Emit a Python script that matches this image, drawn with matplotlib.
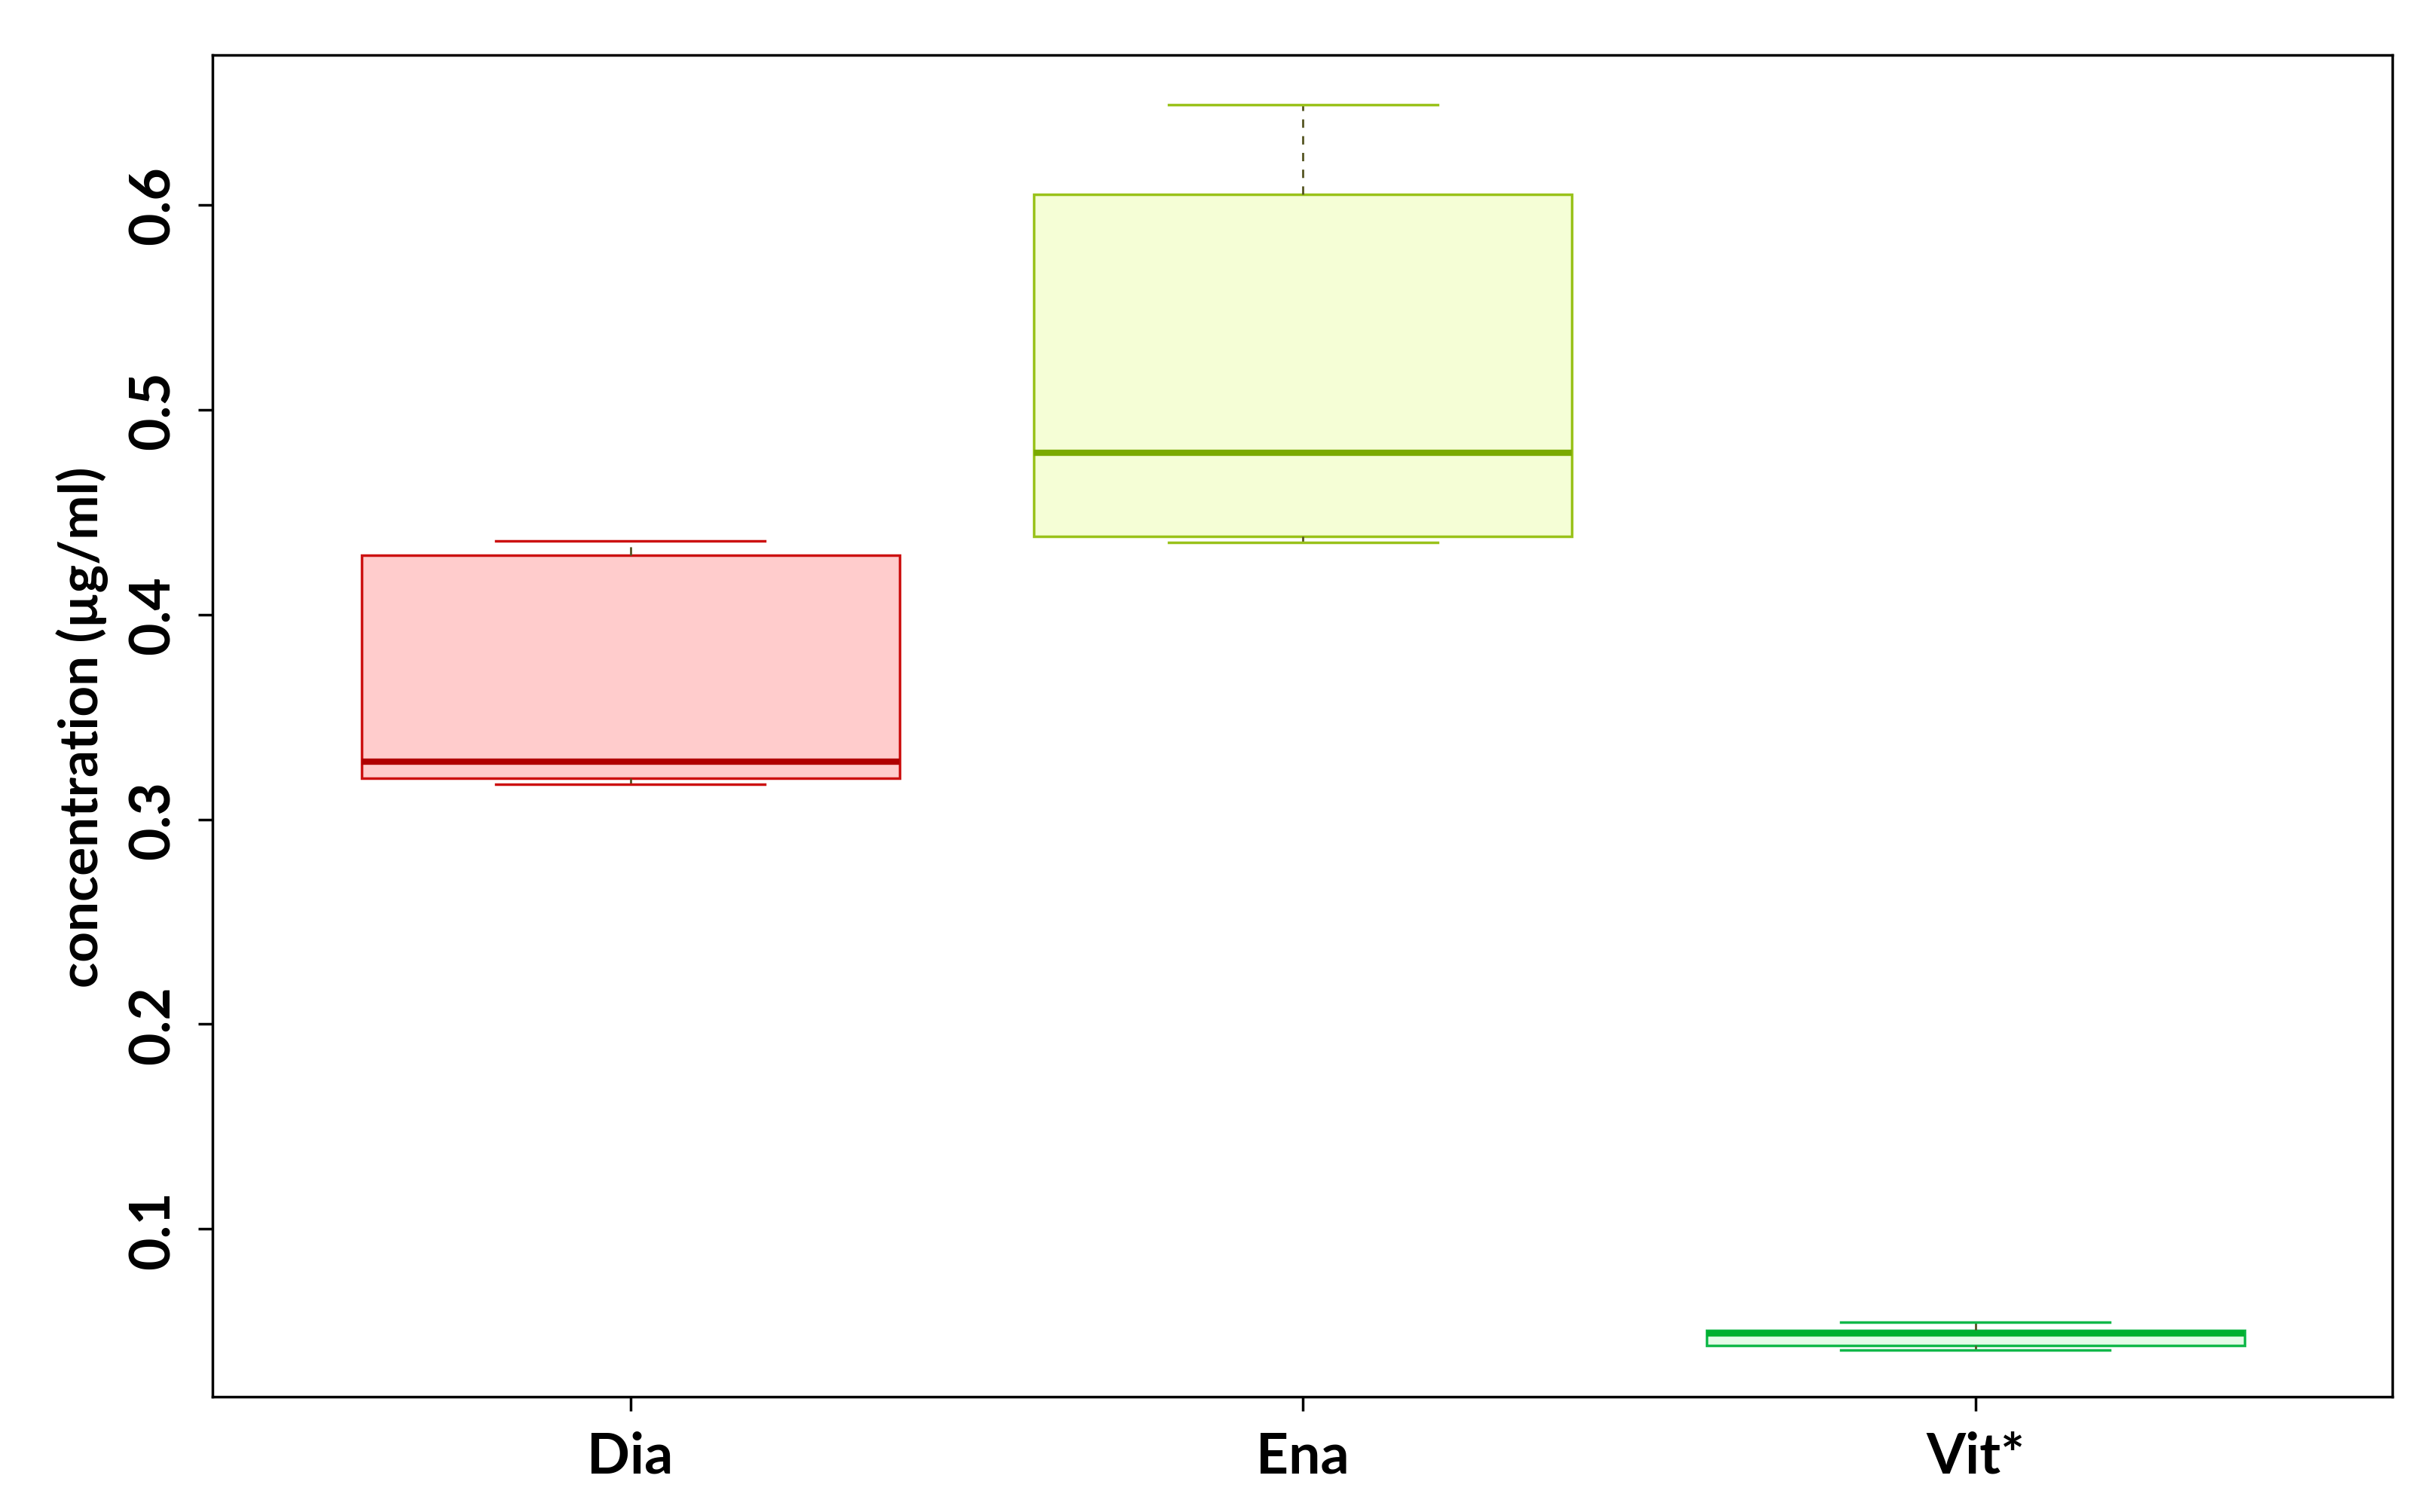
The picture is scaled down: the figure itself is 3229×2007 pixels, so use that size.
import matplotlib
matplotlib.use("Agg")
import matplotlib.pyplot as plt

plt.rcParams["font.family"] = ["Lato", "DejaVu Sans"]
plt.rcParams["font.weight"] = "bold"

groups = ["Dia", "Ena", "Vit*"]
whislo = [0.317, 0.435, 0.041]
q1 = [0.320, 0.438, 0.0433]
med = [0.328, 0.479, 0.049]
q3 = [0.429, 0.605, 0.0506]
whishi = [0.436, 0.649, 0.0544]
edge_colors = ["#cc1111", "#99c21a", "#11b84a"]
fill_colors = ["#ffcccc", "#f5fed6", "#e5fbe8"]
median_colors = ["#b00000", "#7aaa00", "#00b030"]

stats = [dict(label=g, whislo=a, q1=b, med=c, q3=d, whishi=e, fliers=[])
         for g, a, b, c, d, e in zip(groups, whislo, q1, med, q3, whishi)]

fig = plt.figure(figsize=(32.3, 20.08), dpi=100)
ax = fig.add_axes([0.0874, 0.076, 0.8956, 0.887])
for i, s in enumerate(stats):
    ax.bxp([s], positions=[i + 1], widths=0.8, patch_artist=True,
           showfliers=False,
           boxprops=dict(facecolor=fill_colors[i], edgecolor=edge_colors[i], linewidth=2.5),
           medianprops=dict(color=median_colors[i], linewidth=6),
           whiskerprops=dict(color="#555522", linestyle=(0, (4, 4)), linewidth=2),
           capprops=dict(color=edge_colors[i], linewidth=2.5),
           capwidths=0.4)

ax.set_xlim(0.379, 3.62)
ax.set_ylim(0.018, 0.673)
ax.set_yticks([0.1, 0.2, 0.3, 0.4, 0.5, 0.6])
ax.set_yticklabels(["0.1", "0.2", "0.3", "0.4", "0.5", "0.6"], rotation=90,
                   va="center", fontsize=54, fontweight="bold")
ax.set_xticks([1, 2, 3])
ax.set_xticklabels(groups, fontsize=54, fontweight="bold")
ax.tick_params(axis="both", length=14, width=2.5, pad=18)
ax.set_ylabel("concentration (µg/ml)", fontsize=51, fontweight="bold", labelpad=18)
for sp in ax.spines.values():
    sp.set_linewidth(2.5)

fig.savefig("out.png", dpi=100)
